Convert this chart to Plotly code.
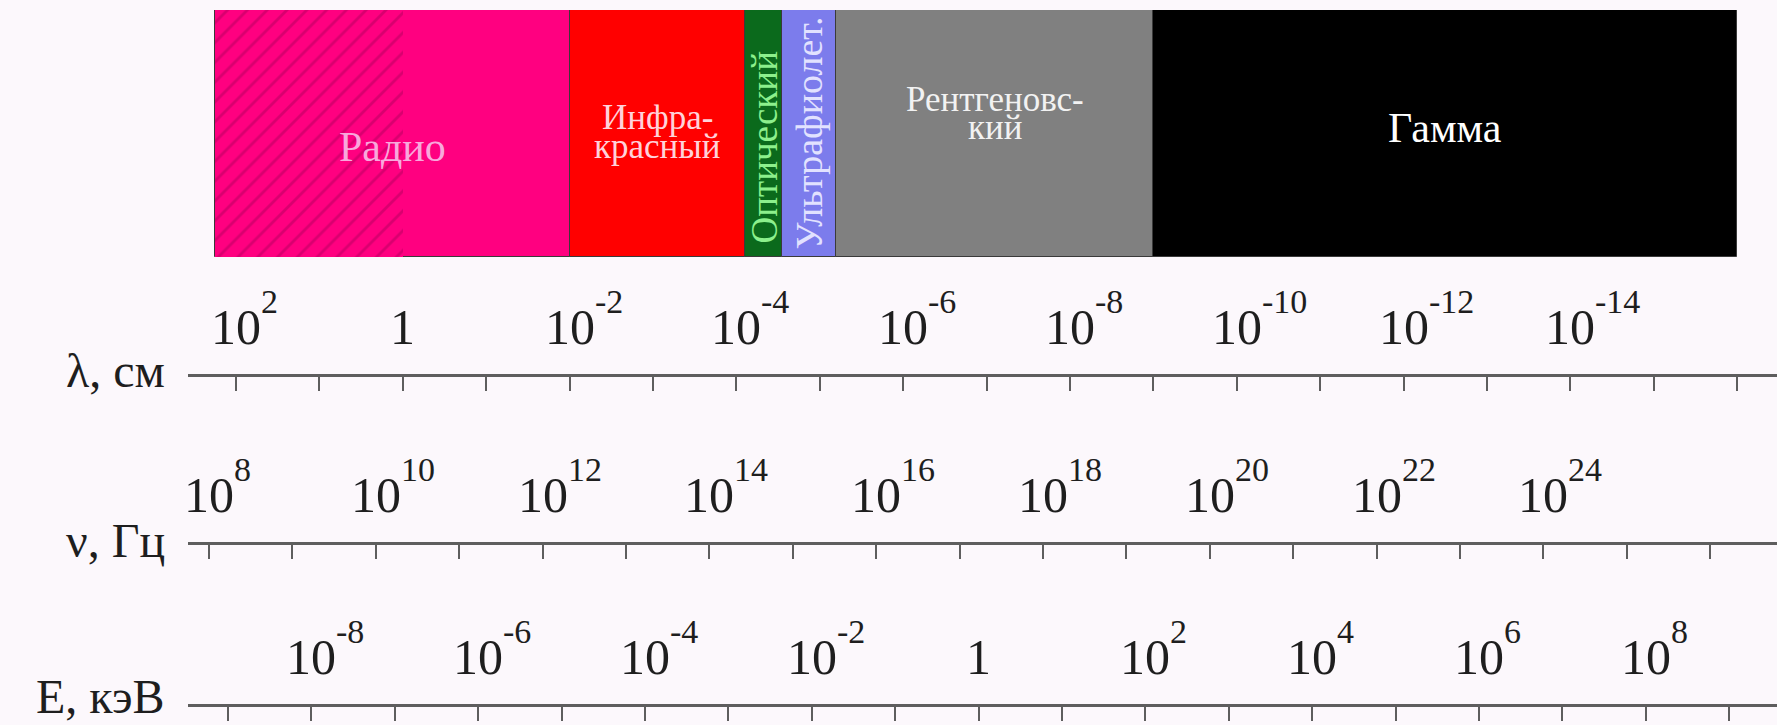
import plotly.graph_objects as go

W, H = 1777, 725

# ---- data -------------------------------------------------------------
# Spectral bands, edges given as log10(lambda / cm)
BAND_LINES = [["Радио"], ["Инфра-", "красный"], ["Оптический"], ["Ультрафиолет."],
              ["Рентгеновс-", "кий"], ["Гамма"]]
BAND_FROM = [2.25, -2.0, -4.1, -4.55, -5.2, -9.0]
BAND_TO = [-2.0, -4.1, -4.55, -5.2, -9.0, -16.0]
# long-wave part of the radio band, shown hatched
RADIO_HATCH_FROM = 2.25
RADIO_HATCH_TO = 0.0

# Decade tick marks on each scale
LAMBDA_DECADES = [2, 1, 0, -1, -2, -3, -4, -5, -6, -7, -8, -9, -10, -11, -12, -13, -14, -15, -16]
NU_DECADES = [8, 9, 10, 11, 12, 13, 14, 15, 16, 17, 18, 19, 20, 21, 22, 23, 24, 25, 26]
E_DECADES = [-9, -8, -7, -6, -5, -4, -3, -2, -1, 0, 1, 2, 3, 4, 5, 6, 7, 8, 9]

# Labelled powers of ten
LAMBDA_LABELS = [2, 0, -2, -4, -6, -8, -10, -12, -14]
NU_LABELS = [8, 10, 12, 14, 16, 18, 20, 22, 24]
E_LABELS = [-8, -6, -4, -2, 0, 2, 4, 6, 8]

ROW_TITLES = ["λ, см", "ν, Гц", "E, кэВ"]

# ---- styling / geometry (pixels) ---------------------------------------
FONT = '"Liberation Serif", "Times New Roman", serif'
BG = "#FCF8FC"
BAND_COLORS = ["#FF0080", "#FF0000", "#0B6A1C", "#7C7CEC", "#808080", "#000000"]
BAND_TEXT_COLORS = ["#F8A8DC", "#FFD2DA", "#8CF08C", "#E2E2FF", "#F2F2F2", "#FFFFFF"]
BAND_TEXT_SIZE = [42, 35, 37, 38, 35, 42]
BAND_TEXT_ANGLE = [0, 0, -90, -90, 0, 0]
BAND_TEXT_Y = [147, 132, 148, 133, 113, 128]   # vertical centre of each label block
BAND_LINE_GAP = [0, 29, 0, 0, 28, 0]
HATCH_COLOR = "#B4005E"

BAR_TOP, BAR_BOTTOM = 10, 257
AXIS_X0 = 188
DECADE_PX = 83.4
# row: (axis line y, a decade value, its x pixel, direction)
ROWS = [
    (375, LAMBDA_DECADES[0], 236, -1),
    (543, NU_DECADES[0], 209, 1),
    (705, E_DECADES[0], 228, 1),
]
TITLE_Y = [370, 540, 696]
LABEL_SIZE = 50
SUP_SIZE = 34
TITLE_SIZE = 48
TEXT_COLOR = "#1E1E1E"
AXIS_COLOR = "#5E5E5E"


def py(px):
    return 1 - px / H


def axis_range(v0, px0, direction):
    start = v0 - direction * (px0 - AXIS_X0) / DECADE_PX
    end = start + direction * (W - AXIS_X0) / DECADE_PX
    return [start, end]


fig = go.Figure()

# spectrum strip
for name, lo, hi, col in zip(BAND_LINES, BAND_FROM, BAND_TO, BAND_COLORS):
    fig.add_trace(go.Bar(
        x=[hi - lo], base=[lo], y=[0], orientation="h", width=1,
        marker=dict(color=col, line=dict(color="#3A3A3A", width=1)),
        name=" ".join(name), hoverinfo="name", showlegend=False,
        xaxis="x", yaxis="y",
    ))
fig.add_trace(go.Bar(
    x=[RADIO_HATCH_TO - RADIO_HATCH_FROM], base=[RADIO_HATCH_FROM], y=[0],
    orientation="h", width=1,
    marker=dict(color=BAND_COLORS[0], line=dict(width=0),
                pattern=dict(shape="/", fgcolor=HATCH_COLOR, size=14, solidity=0.2)),
    hoverinfo="skip", showlegend=False, xaxis="x", yaxis="y",
))

decades = [LAMBDA_DECADES, NU_DECADES, E_DECADES]
labels = [LAMBDA_LABELS, NU_LABELS, E_LABELS]
axis_ids = ["x", "x2", "x3"]
yaxis_ids = ["y", "y2", "y3"]

# invisible markers so every scale carries a trace
for i in (1, 2):
    fig.add_trace(go.Scatter(
        x=labels[i], y=[0] * len(labels[i]), mode="markers",
        marker=dict(opacity=0), hoverinfo="x", showlegend=False,
        xaxis=axis_ids[i], yaxis=yaxis_ids[i],
    ))

layout_axes = {}
for i, (line_y, v0, px0, direction) in enumerate(ROWS):
    key = "xaxis" if i == 0 else f"xaxis{i + 1}"
    layout_axes[key] = dict(
        domain=[AXIS_X0 / W, 1], range=axis_range(v0, px0, direction),
        anchor="free", position=py(line_y),
        showline=True, linecolor=AXIS_COLOR, linewidth=3,
        ticks="outside", tickmode="array", tickvals=decades[i],
        ticklen=14, tickwidth=2, tickcolor=AXIS_COLOR,
        showticklabels=False, showgrid=False, zeroline=False, fixedrange=True,
    )
layout_axes["yaxis"] = dict(domain=[py(BAR_BOTTOM), py(BAR_TOP)], range=[-0.5, 0.5],
                            anchor="free", position=0, visible=False, fixedrange=True)
layout_axes["yaxis2"] = dict(domain=[py(560), py(530)], range=[-1, 1], anchor="free",
                             position=0, visible=False)
layout_axes["yaxis3"] = dict(domain=[py(720), py(690)], range=[-1, 1], anchor="free",
                             position=0, visible=False)

annotations = []

# band names
for i, lines in enumerate(BAND_LINES):
    xc = (BAND_FROM[i] + BAND_TO[i]) / 2
    n = len(lines)
    for k, txt in enumerate(lines):
        yc = BAND_TEXT_Y[i] + (k - (n - 1) / 2) * BAND_LINE_GAP[i]
        annotations.append(dict(
            x=xc, xref="x", y=py(yc), yref="paper", text=txt, showarrow=False,
            textangle=BAND_TEXT_ANGLE[i], xanchor="center", yanchor="middle",
            borderpad=0,
            font=dict(family=FONT, size=BAND_TEXT_SIZE[i], color=BAND_TEXT_COLORS[i]),
        ))

# scale labels: powers of ten above each axis line
for i, (line_y, v0, px0, direction) in enumerate(ROWS):
    xref = axis_ids[i]
    for e in labels[i]:
        base = "1" if e == 0 else "10"
        annotations.append(dict(
            x=e, xref=xref, y=py(line_y - 31), yref="paper", yanchor="bottom",
            yshift=-13, xanchor="center", text=base, showarrow=False,
            font=dict(family=FONT, size=LABEL_SIZE, color=TEXT_COLOR),
        ))
        if e != 0:
            annotations.append(dict(
                x=e, xref=xref, y=py(line_y - 62), yref="paper", yanchor="bottom",
                yshift=-9, xanchor="left", xshift=LABEL_SIZE / 2 - 2,
                text=str(e), showarrow=False,
                font=dict(family=FONT, size=SUP_SIZE, color=TEXT_COLOR),
            ))
    annotations.append(dict(
        x=166 / W, xref="paper", y=py(TITLE_Y[i]), yref="paper",
        xanchor="right", yanchor="middle", text=ROW_TITLES[i], showarrow=False,
        borderpad=0,
        font=dict(family=FONT, size=TITLE_SIZE, color=TEXT_COLOR),
    ))

fig.update_layout(
    width=W, height=H, autosize=False,
    margin=dict(l=0, r=0, t=0, b=0),
    paper_bgcolor=BG, plot_bgcolor=BG,
    barmode="overlay", bargap=0,
    annotations=annotations,
    **layout_axes,
)

fig.write_html("out.html")
